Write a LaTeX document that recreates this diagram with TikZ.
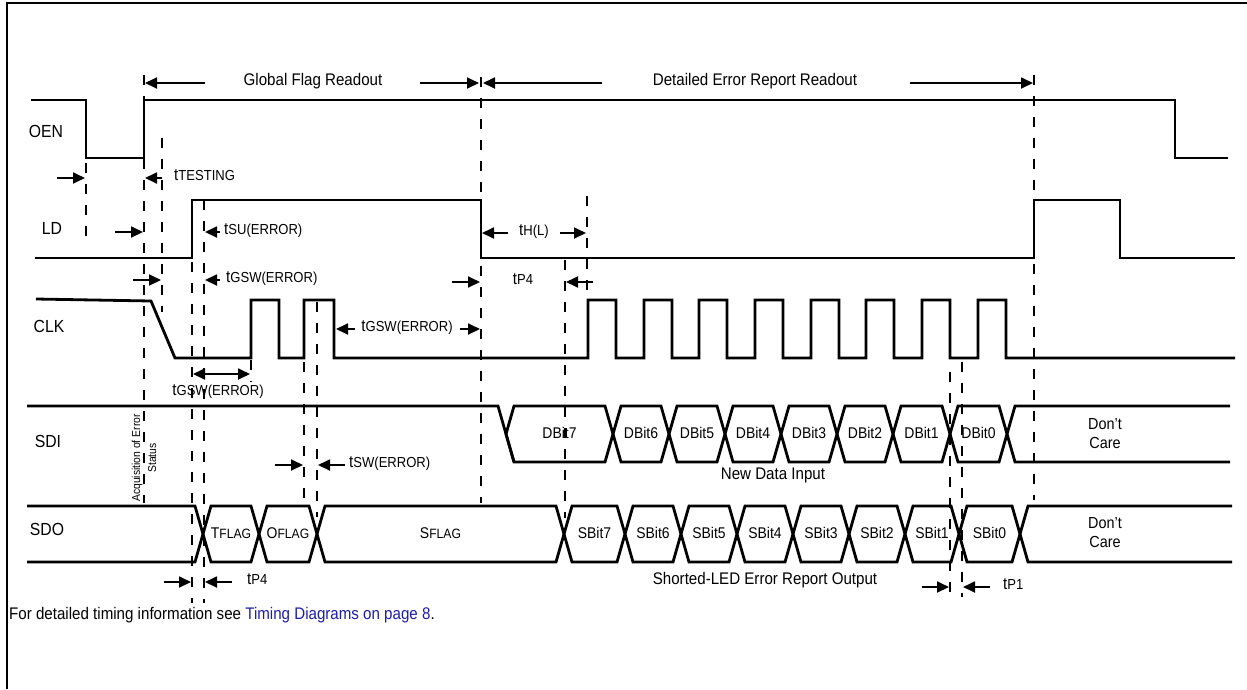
\documentclass[tikz,border=0pt]{standalone}
\usepackage{fontspec}
\setmainfont[FakeStretch=0.9]{Liberation Sans}
\usepackage{tikz}
\usetikzlibrary{arrows.meta}
\definecolor{linkblue}{RGB}{28,28,168}
\newcommand{\lblfont}{\fontsize{16.8}{18}\selectfont}
\newcommand{\subfont}{\fontsize{14.5}{16}\selectfont}
\newcommand{\tsub}[1]{t{\subfont #1}}
\newcommand{\flagtxt}[2]{#1{\fontsize{13.5}{15}\selectfont #2}}
\tikzset{
  sig/.style={line width=2.8pt,line join=miter},
  guide/.style={line width=2pt,dash pattern=on 10pt off 11pt},
  dimarr/.style={-{Triangle[length=12pt,width=11pt]},line width=1.8pt},
  dimbiarr/.style={{Triangle[length=12pt,width=11pt]}-{Triangle[length=12pt,width=11pt]},line width=1.8pt},
  lbl/.style={font=\lblfont,inner sep=0pt},
  signame/.style={font=\fontsize{17.5}{19}\selectfont,inner sep=0pt,anchor=mid},
  bustext/.style={font=\fontsize{15.5}{17}\selectfont,inner sep=0pt,anchor=mid}
}
% bus cell: left x, right x, top y, name, text
\newcommand{\busseg}[5]{%
  \draw[sig] (#1,#3+28) -- (#1+8,#3) -- (#2-8,#3) -- (#2,#3+28) -- (#2-8,#3+56) -- (#1+8,#3+56) -- cycle;
  \node[bustext] (#4) at ({(#1+#2)/2},#3+30) {#5};}

\begin{document}
\begin{tikzpicture}[x=1pt,y=-1pt]
\useasboundingbox (0,0) rectangle (1247,689);
\draw[line width=2pt] (7,689) -- (7,3) -- (1247,3);

\node[signame] (oen) at (46,135) {OEN};
\node[signame] (ld)  at (52,232) {LD};
\node[signame] (clk) at (49,330) {CLK};
\node[signame] (sdi) at (48,445) {SDI};
\node[signame] (sdo) at (47,533) {SDO};

% waveforms
\draw[sig] (31,100) -- (86,100) -- (86,158) -- (144,158) -- (144,100) -- (1175,100) -- (1175,158) -- (1228,158);
\draw[sig] (35,258) -- (192,258) -- (192,200) -- (481,200) -- (481,258) -- (1034,258) -- (1034,200) -- (1120,200) -- (1120,258) -- (1235,258);
\draw[sig] (36,299) -- (151,301) -- (175,358) -- (251,358) -- (251,300) -- (279,300) -- (279,358) -- (304,358) -- (304,300) -- (334,300) -- (334,358) -- (588,358)
  -- (588,300) -- (616,300) -- (616,358) -- (644,358) -- (644,300) -- (672,300) -- (672,358) -- (699,358) -- (699,300) -- (727,300) -- (727,358)
  -- (755,358) -- (755,300) -- (783,300) -- (783,358) -- (811,358) -- (811,300) -- (839,300) -- (839,358) -- (866,358) -- (866,300) -- (894,300) -- (894,358)
  -- (922,358) -- (922,300) -- (950,300) -- (950,358) -- (978,358) -- (978,300) -- (1006,300) -- (1006,358) -- (1235,358);

\draw[sig] (27,406) -- (498,406) -- (514,462);
\busseg{506}{613}{406}{d7}{DBit7}
\busseg{613}{669}{406}{d6}{DBit6}
\busseg{669}{725}{406}{d5}{DBit5}
\busseg{725}{781}{406}{d4}{DBit4}
\busseg{781}{837}{406}{d3}{DBit3}
\busseg{837}{893}{406}{d2}{DBit2}
\busseg{893}{950}{406}{d1}{DBit1}
\busseg{950}{1007}{406}{d0}{DBit0}
\draw[sig] (1230,406) -- (1015,406) -- (1007,434) -- (1015,462) -- (1230,462);
\node[bustext,align=center,font=\fontsize{16}{19}\selectfont,anchor=center] (dcare1) at (1105,434) {Don’t\\Care};

\draw[sig] (27,506) -- (195,506) -- (203,534) -- (195,562) -- (27,562);
\busseg{203}{259}{506}{tflag}{\flagtxt{T}{FLAG}}
\busseg{259}{317}{506}{oflag}{\flagtxt{O}{FLAG}}
\busseg{317}{564}{506}{sflag}{\flagtxt{S}{FLAG}}
\busseg{564}{625}{506}{s7}{SBit7}
\busseg{625}{681}{506}{s6}{SBit6}
\busseg{681}{737}{506}{s5}{SBit5}
\busseg{737}{793}{506}{s4}{SBit4}
\busseg{793}{849}{506}{s3}{SBit3}
\busseg{849}{905}{506}{s2}{SBit2}
\busseg{905}{959}{506}{s1}{SBit1}
\busseg{959}{1020}{506}{s0}{SBit0}
\draw[sig] (1232,506) -- (1028,506) -- (1020,534) -- (1028,562) -- (1232,562);
\node[bustext,align=center,font=\fontsize{16}{19}\selectfont,anchor=center] (dcare2) at (1105,533) {Don’t\\Care};

% guide lines
\draw[guide] (86,163) -- (86,245);
\draw[guide] (144,75) -- (144,503);
\draw[guide] (162,138) -- (162,312);
\draw[guide] (192,262) -- (192,603);
\draw[guide] (204,200) -- (204,603);
\draw[guide] (251,360) -- (251,382);
\draw[guide] (304,362) -- (304,505);
\draw[guide] (317,302) -- (317,517);
\draw[guide] (481,77) -- (481,503);
\draw[guide] (565,260) -- (565,518);
\draw[guide] (587,196) -- (587,300);
\draw[guide] (950,372) -- (950,597);
\draw[guide] (962,362) -- (962,597);
\draw[guide] (1034,75) -- (1034,500);

% phases
\node[lbl,anchor=mid] (gfr) at (313,83) {Global Flag Readout};
\draw[dimarr] (205,83) -- (145,83);
\draw[dimarr] (420,83) -- (479,83);
\node[lbl,anchor=mid] (der) at (755,83) {Detailed Error Report Readout};
\draw[dimarr] (602,83) -- (483,83);
\draw[dimarr] (910,83) -- (1033,83);

% timing marks
\draw[dimarr] (57,178) -- (85,178);
\draw[dimarr] (162,178) -- (145,178);
\node[lbl,anchor=mid west] (ttest) at (174,178) {\tsub{TESTING}};
\draw[dimarr] (115,232) -- (143,232);
\draw[dimarr] (220,232) -- (205,232);
\node[lbl,anchor=mid west] (tsu) at (224,232) {\tsub{SU(ERROR)}};
\draw[dimarr] (508,233) -- (482,233);
\draw[dimarr] (560,233) -- (586,233);
\node[lbl,anchor=mid] (thl) at (534,233) {\tsub{H(L)}};
\draw[dimarr] (133,280) -- (161,280);
\draw[dimarr] (220,280) -- (205,280);
\node[lbl,anchor=mid west] (tgswa) at (226,280) {\tsub{GSW(ERROR)}};
\draw[dimarr] (452,282) -- (480,282);
\draw[dimarr] (593,282) -- (566,282);
\node[lbl,anchor=mid] (tpa) at (523,282) {\tsub{P4}};
\draw[dimarr] (355,329) -- (336,329);
\draw[dimarr] (460,329) -- (480,329);
\node[lbl,anchor=mid] (tgswb) at (407,329) {\tsub{GSW(ERROR)}};
\draw[dimbiarr] (193,374) -- (250,374);
\node[lbl,anchor=mid] (tgswc) at (218,393) {\tsub{GSW(ERROR)}};
\draw[dimarr] (275,465) -- (303,465);
\draw[dimarr] (345,465) -- (318,465);
\node[lbl,anchor=mid west] (tsw) at (349,465) {\tsub{SW(ERROR)}};
\draw[dimarr] (164,582) -- (191,582);
\draw[dimarr] (232,582) -- (205,582);
\node[lbl,anchor=mid west] (tpb) at (247,582) {\tsub{P4}};
\draw[dimarr] (922,587) -- (949,587);
\draw[dimarr] (990,587) -- (963,587);
\node[lbl,anchor=mid west] (tpc) at (1003,587) {\tsub{P1}};

\node[lbl,anchor=mid] (ndi) at (773,477) {New Data Input};
\node[lbl,anchor=mid] (sled) at (765,582) {Shorted-LED Error Report Output};
\node[rotate=90,align=center,inner sep=0pt,font=\fontsize{11.5}{16}\selectfont] (acq) at (144,458) {Acquisition of Error\\Status};
\node[lbl,anchor=mid west] (note) at (9,617) {For detailed timing information see \textcolor{linkblue}{Timing Diagrams on page 8}.};
\end{tikzpicture}
\end{document}
